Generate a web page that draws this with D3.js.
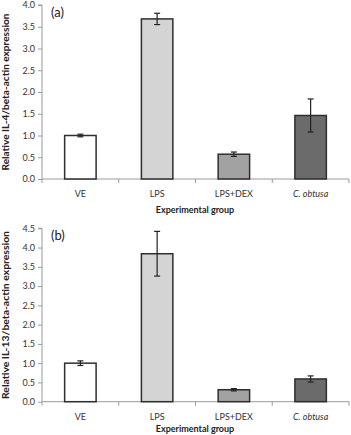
<!DOCTYPE html>
<html><head><meta charset="utf-8">
<script src="https://cdn.jsdelivr.net/npm/d3@7"></script>
<style>body{margin:0;background:#fff}svg{display:block}text{font-family:Lato,"Open Sans",sans-serif}</style>
</head><body>
<script>
const categories = ["VE", "LPS", "LPS+DEX", "C. obtusa"];
const il4Values = [1.0, 3.68, 0.57, 1.46];
const il4Errors = [0.03, 0.13, 0.05, 0.38];
const il13Values = [1.0, 3.84, 0.31, 0.59];
const il13Errors = [0.06, 0.58, 0.03, 0.08];
const il4Ticks = [0, 0.5, 1, 1.5, 2, 2.5, 3, 3.5, 4];
const il13Ticks = [0, 0.5, 1, 1.5, 2, 2.5, 3, 3.5, 4, 4.5];
const barColors = ["#ffffff", "#d4d4d4", "#a2a2a2", "#6b6b6b"];

const svg = d3.select("body").append("svg").attr("width", 351).attr("height", 435);

function panel(cfg) {
  const g = svg.append("g");
  const x = d3.scaleBand().domain(categories).range([42, 349]).paddingInner(0.59).paddingOuter(0.295);
  const y = d3.scaleLinear().domain([0, cfg.max]).range([cfg.y0, cfg.y1]);
  const ya = g.append("g").attr("transform", "translate(42,0)")
    .call(d3.axisLeft(y).tickValues(cfg.ticks).tickFormat(d3.format(".1f")).tickSize(4).tickPadding(3));
  ya.select(".domain").attr("stroke", "#9a9a9a").attr("d", `M-4,${cfg.y1}H0V${cfg.y0}`);
  ya.selectAll(".tick line").attr("stroke", "#9a9a9a");
  ya.selectAll(".tick text").attr("font-size", 9).attr("fill", "#333");
  const xa = g.append("g").attr("transform", `translate(0,${cfg.y0})`);
  xa.append("line").attr("x1", 42).attr("x2", 349).attr("stroke", "#9a9a9a");
  const bounds = categories.map(c => x(c) - x.step() * 0.295).concat([349]);
  xa.selectAll("line.t").data(bounds).join("line").attr("class", "t")
    .attr("x1", d => d).attr("x2", d => d).attr("y1", 0).attr("y2", 4).attr("stroke", "#9a9a9a");
  xa.selectAll("text").data(categories).join("text")
    .attr("x", d => x(d) + x.bandwidth() / 2).attr("y", 18)
    .attr("text-anchor", "middle").attr("font-size", 9).attr("fill", "#333")
    .attr("font-style", d => d === "C. obtusa" ? "italic" : "normal")
    .attr("font-family", d => d === "C. obtusa" ? "'Liberation Sans',Arial,sans-serif" : null)
    .text(d => d);
  g.append("text").attr("x", 195).attr("y", cfg.y0 + cfg.titleOff).attr("text-anchor", "middle")
    .attr("font-size", 9).attr("font-weight", "bold").attr("fill", "#222").text("Experimental group");
  g.selectAll("rect.bar").data(cfg.values).join("rect").attr("class", "bar")
    .attr("x", (d, i) => x(categories[i])).attr("width", x.bandwidth())
    .attr("y", d => y(d)).attr("height", d => y(0) - y(d))
    .attr("fill", (d, i) => barColors[i]).attr("stroke", "#2e2e2e").attr("stroke-width", 1.5);
  const eg = g.selectAll("g.err").data(cfg.values).join("g").attr("class", "err")
    .attr("transform", (d, i) => `translate(${x(categories[i]) + x.bandwidth() / 2},0)`);
  eg.append("line").attr("y1", (d, i) => y(d + cfg.errors[i])).attr("y2", (d, i) => y(d - cfg.errors[i]))
    .attr("stroke", "#222").attr("stroke-width", 1.2);
  eg.append("line").attr("x1", -3).attr("x2", 3).attr("y1", (d, i) => y(d + cfg.errors[i])).attr("y2", (d, i) => y(d + cfg.errors[i]))
    .attr("stroke", "#222").attr("stroke-width", 1.2);
  eg.append("line").attr("x1", -3).attr("x2", 3).attr("y1", (d, i) => y(d - cfg.errors[i])).attr("y2", (d, i) => y(d - cfg.errors[i]))
    .attr("stroke", "#222").attr("stroke-width", 1.2);
  const cy = (cfg.y0 + cfg.y1) / 2;
  g.append("text").attr("transform", `translate(9,${cy}) rotate(-90)`).attr("text-anchor", "middle")
    .attr("font-size", 8.5).attr("font-weight", "bold").attr("fill", "#222")
    .attr("textLength", cfg.titleLen).attr("lengthAdjust", "spacingAndGlyphs").text(cfg.title);
  g.append("text").attr("x", 51).attr("y", cfg.y1 + 12).attr("font-size", 13).attr("fill", "#222").text(cfg.label);
}

panel({max: 4, y0: 179, y1: 5, ticks: il4Ticks, values: il4Values, errors: il4Errors,
  title: "Relative IL-4/beta-actin expression", titleLen: 157, label: "(a)", titleOff: 34});
panel({max: 4.5, y0: 401.7, y1: 228.3, ticks: il13Ticks, values: il13Values, errors: il13Errors,
  title: "Relative IL-13/beta-actin expression", titleLen: 168, label: "(b)", titleOff: 30.5});
</script>
</body></html>
